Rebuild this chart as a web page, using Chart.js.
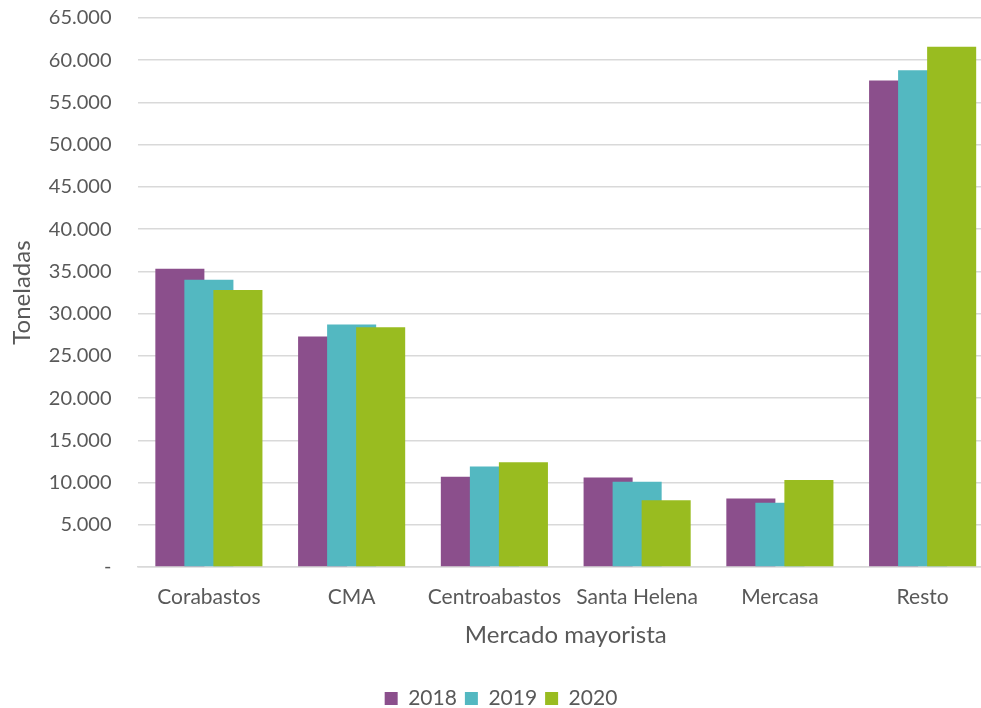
<!DOCTYPE html>
<html>
<head>
<meta charset="utf-8">
<script src="https://cdn.jsdelivr.net/npm/chart.js@4/dist/chart.umd.min.js"></script>
<style>
  html, body { margin: 0; padding: 0; background: #fff; overflow: hidden; }
  /* el grafico original esta recortado por la derecha y abajo */
  #wrap { width: 994px; height: 719px; }
</style>
</head>
<body>
<div id="wrap"><canvas id="chart"></canvas></div>
<script>
const mercados = ['Corabastos', 'CMA', 'Centroabastos', 'Santa Helena', 'Mercasa', 'Resto'];
const anios = ['2018', '2019', '2020'];
const valores2018 = [35300, 27300, 10700, 10600, 8100, 57600];
const valores2019 = [34000, 28700, 11900, 10100, 7600, 58800];
const valores2020 = [32800, 28400, 12400, 7900, 10300, 61600];
const colores = ['#8B4F8C', '#53B8C1', '#99BC20'];

const textColor = '#595959';
const fontFamily = 'Lato, "Open Sans", sans-serif';

// miles con punto, cero como guion (formato Excel)
function formatMiles(v) {
  if (v === 0) return '-';
  return String(v).replace(/\B(?=(\d{3})+(?!\d))/g, '.');
}

// Excel pinta 2018 debajo y 2020 encima: dibujar en orden de indice
const ordenDibujo = {
  id: 'ordenDibujo',
  beforeDatasetsDraw(chart) {
    chart.data.datasets.forEach((ds, i) => {
      const meta = chart.getDatasetMeta(i);
      if (!meta.hidden) meta.controller.draw();
    });
    return false;
  }
};

const series = [valores2018, valores2019, valores2020];

new Chart(document.getElementById('chart'), {
  type: 'bar',
  data: {
    labels: mercados,
    datasets: anios.map((a, i) => ({
      label: a,
      data: series[i],
      backgroundColor: colores[i],
      borderWidth: 0,
      categoryPercentage: 0.61,
      barPercentage: 1.69
    }))
  },
  options: {
    responsive: true,
    maintainAspectRatio: false,
    animation: false,
    layout: { padding: { top: 2, right: 0, left: 8, bottom: 0 } },
    plugins: {
      tooltip: { enabled: false },
      legend: {
        position: 'bottom',
        labels: {
          color: textColor,
          font: { family: fontFamily, size: 21 },
          boxWidth: 13,
          boxHeight: 13,
          padding: 8
        }
      }
    },
    scales: {
      x: {
        grid: { display: false },
        border: { color: '#d9d9d9', width: 1.5 },
        ticks: {
          color: textColor,
          font: { family: fontFamily, size: 21 },
          padding: 10,
          maxRotation: 0
        },
        title: {
          display: true,
          text: 'Mercado mayorista',
          color: textColor,
          font: { family: fontFamily, size: 24 },
          padding: { top: 1, bottom: 30 }
        }
      },
      y: {
        min: 0,
        max: 65000,
        ticks: {
          stepSize: 5000,
          color: textColor,
          font: { family: fontFamily, size: 20 },
          padding: 6,
          callback: v => formatMiles(v)
        },
        grid: { color: '#d9d9d9', lineWidth: 1.5, tickLength: 20, tickColor: 'rgba(0,0,0,0)' },
        border: { display: false },
        title: {
          display: true,
          text: 'Toneladas',
          color: textColor,
          font: { family: fontFamily, size: 24 },
          padding: { top: 0, bottom: 6 }
        }
      }
    }
  },
  plugins: [ordenDibujo]
});
</script>
</body>
</html>
